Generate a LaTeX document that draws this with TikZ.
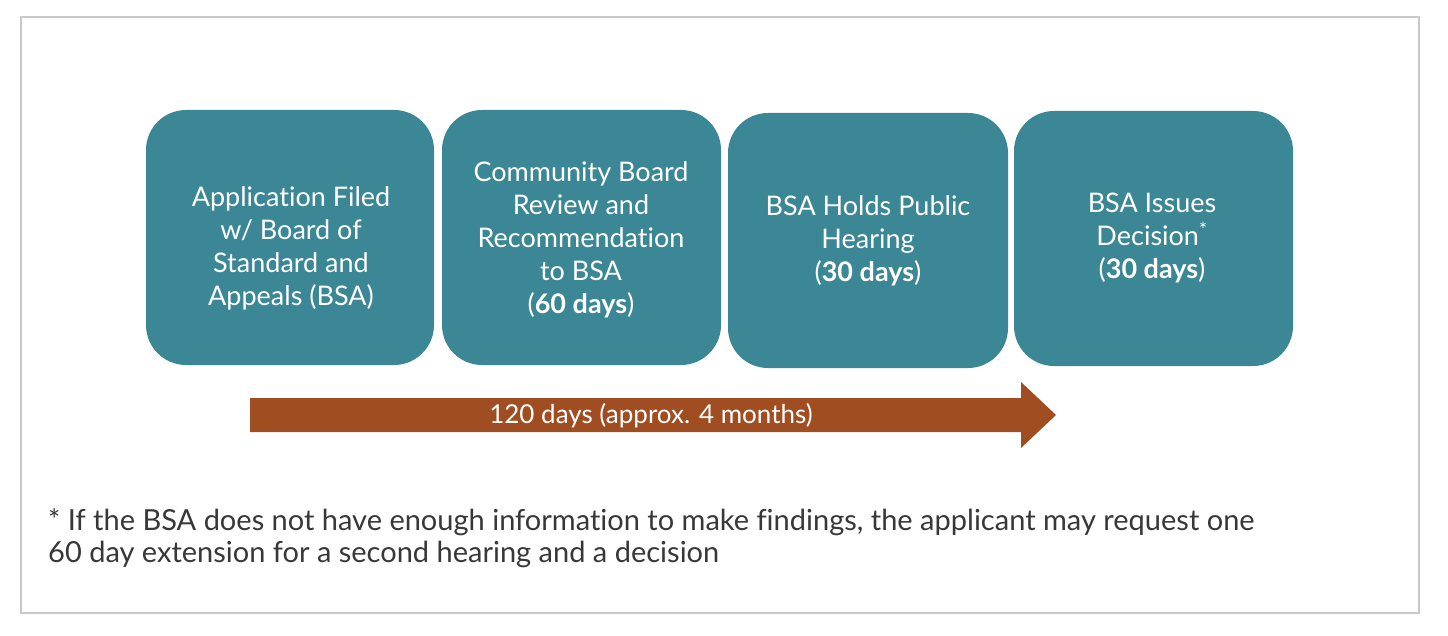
\documentclass[tikz,border=0pt]{standalone}
\usepackage{fontspec}
\setmainfont{Lato}[Ligatures=NoCommon]
\definecolor{boxteal}{HTML}{3B8796}
\definecolor{arrowbrown}{HTML}{A04D22}
\definecolor{framegray}{HTML}{C8C8C8}
\definecolor{notegray}{HTML}{383838}
\begin{document}
\begin{tikzpicture}[x=1pt,y=-1pt,
  stepbox/.style={fill=boxteal, rounded corners=40pt, text=white, align=center,
    font=\fontsize{27}{33}\selectfont, inner sep=0pt},
  framebox/.style={draw=framegray, line width=1.5pt}]
\useasboundingbox (0,0) rectangle (1448,636);
\fill[white] (0,0) rectangle (1448,636);
\draw[framebox] (21,17) rectangle (1419,613);
\node[stepbox, minimum width=288pt, minimum height=255pt] (b1) at (290,237.5) {};
\node[stepbox, minimum width=279pt, minimum height=255pt] (b2) at (581.5,237.5) {};
\node[stepbox, minimum width=280pt, minimum height=255pt] (b3) at (868,240.5) {};
\node[stepbox, minimum width=279pt, minimum height=255pt] (b4) at (1153.5,238.5) {};
\node[stepbox, anchor=center] (t1) at (291,248) {Application Filed\\w/ Board of\\Standard and\\Appeals (BSA)};
\node[stepbox, anchor=center] (t2) at (581,240) {Community Board\\Review and\\Recommendation\\to BSA\\(\textbf{60 days})};
\node[stepbox, anchor=center] (t3) at (868,241) {BSA Holds Public\\Hearing\\(\textbf{30 days})};
\node[stepbox, anchor=center] (t4) at (1152,238) {BSA Issues\\Decision\textsuperscript{*}\\(\textbf{30 days})};
\fill[arrowbrown] (250,398) -- (1021,398) -- (1021,382) -- (1056,415) -- (1021,448) -- (1021,432) -- (250,432) -- cycle;
\node[text=white, font=\fontsize{26}{28}\selectfont, inner sep=0pt] (lab) at (651,416) {120 days (approx. 4 months)};
\node[anchor=base west, align=left, text=notegray, font=\fontsize{29}{32}\selectfont, inner sep=0pt] (note) at (48,562)
  {* If the BSA does not have enough information to make findings, the applicant may request one\\60 day extension for a second hearing and a decision};
\end{tikzpicture}
\end{document}
